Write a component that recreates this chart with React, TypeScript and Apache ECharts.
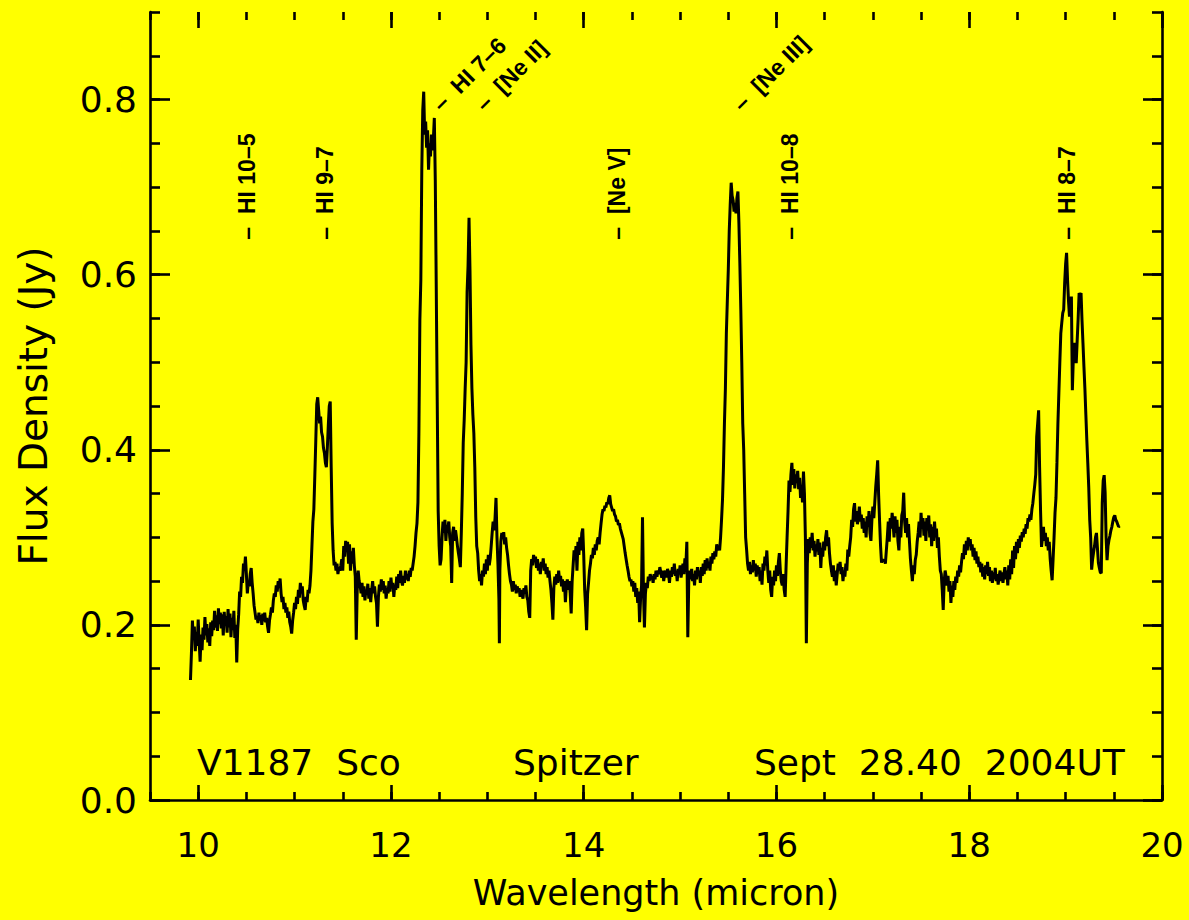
import React, { useEffect, useRef } from "react";
import * as echarts from "echarts";

// ---- axis ticks ----
const xMajorTicks = [10, 12, 14, 16, 18, 20];
const yMajorTicks = [0, 0.2, 0.4, 0.6, 0.8];

// ---- spectrum (wavelength in micron, flux density in Jy) ----
const specA: [number, number][] = [
  [9.92,0.137],[9.93,0.168],[9.94,0.205],[9.95,0.183],[9.96,0.198],[9.97,0.170],[9.98,0.192],[9.99,0.176],[10.00,0.206],[10.01,0.181],
  [10.02,0.158],[10.03,0.189],[10.04,0.171],[10.05,0.197],[10.06,0.183],[10.07,0.209],[10.08,0.188],[10.09,0.201],[10.10,0.180],[10.11,0.196],
  [10.12,0.176],[10.13,0.203],[10.14,0.187],[10.15,0.205],[10.16,0.194],[10.17,0.216],[10.18,0.197],[10.19,0.211],[10.20,0.193],[10.21,0.219],
  [10.22,0.201],[10.23,0.214],[10.24,0.196],[10.25,0.212],[10.26,0.188],[10.27,0.215],[10.28,0.199],[10.29,0.210],[10.30,0.191],[10.31,0.218],
  [10.32,0.197],[10.33,0.213],[10.34,0.186],[10.35,0.208],[10.36,0.194],[10.37,0.216],[10.38,0.185],[10.39,0.200],[10.40,0.157],[10.41,0.195],
  [10.42,0.212],[10.43,0.238],[10.44,0.232],[10.45,0.255],[10.46,0.248],[10.47,0.270],[10.48,0.262],[10.49,0.278],[10.50,0.258],[10.51,0.236],
  [10.52,0.250],[10.53,0.244],[10.54,0.258],[10.55,0.265],[10.56,0.248],[10.57,0.236],[10.58,0.222],[10.59,0.214],[10.60,0.206],[10.61,0.210],
  [10.62,0.202],[10.63,0.214],[10.64,0.205],[10.65,0.211],[10.66,0.200],[10.67,0.213],[10.68,0.204],[10.69,0.214],[10.70,0.203],[10.71,0.208],
  [10.72,0.198],[10.73,0.191],[10.74,0.205],[10.75,0.212],[10.76,0.220],[10.77,0.214],[10.78,0.228],[10.79,0.236],[10.80,0.232],[10.81,0.245],
  [10.82,0.238],[10.83,0.250],[10.84,0.242],[10.85,0.253],[10.86,0.236],[10.87,0.226],[10.88,0.232],[10.89,0.218],[10.90,0.225],[10.91,0.214],
  [10.92,0.220],[10.93,0.208],[10.94,0.215],[10.95,0.203],[10.96,0.198],[10.97,0.190],[10.98,0.205],[10.99,0.214],
];
const specB: [number, number][] = [
  [11.00,0.225],[11.01,0.218],[11.02,0.232],[11.03,0.224],[11.04,0.240],[11.05,0.231],[11.06,0.248],[11.07,0.236],[11.08,0.244],[11.09,0.228],
  [11.10,0.222],[11.11,0.217],[11.12,0.232],[11.13,0.226],[11.14,0.240],[11.15,0.236],[11.16,0.245],[11.17,0.262],[11.18,0.290],[11.19,0.318],
  [11.20,0.332],[11.21,0.370],[11.22,0.410],[11.23,0.452],[11.24,0.460],[11.25,0.445],[11.26,0.430],[11.27,0.438],[11.28,0.420],[11.29,0.415],
  [11.30,0.402],[11.31,0.396],[11.32,0.385],[11.33,0.380],[11.34,0.402],[11.35,0.428],[11.36,0.450],[11.37,0.455],[11.38,0.380],[11.39,0.316],
  [11.40,0.285],[11.41,0.268],[11.42,0.272],[11.43,0.262],[11.44,0.270],[11.45,0.258],[11.46,0.266],[11.47,0.262],[11.48,0.268],[11.49,0.275],
  [11.50,0.262],[11.51,0.290],[11.52,0.278],[11.53,0.296],[11.54,0.284],[11.55,0.295],[11.56,0.270],[11.57,0.292],[11.58,0.262],[11.59,0.284],
  [11.60,0.270],[11.61,0.288],[11.62,0.268],[11.63,0.255],[11.64,0.183],[11.65,0.240],[11.66,0.262],[11.67,0.250],[11.68,0.245],[11.69,0.236],
  [11.70,0.248],[11.71,0.232],[11.72,0.244],[11.73,0.228],[11.74,0.240],[11.75,0.235],[11.76,0.247],[11.77,0.230],[11.78,0.242],[11.79,0.226],
  [11.80,0.240],[11.81,0.250],[11.82,0.236],[11.83,0.244],[11.84,0.232],[11.85,0.225],[11.86,0.198],[11.87,0.232],[11.88,0.246],[11.89,0.238],
  [11.90,0.252],[11.91,0.240],[11.92,0.250],[11.93,0.236],[11.94,0.245],[11.95,0.230],[11.96,0.242],[11.97,0.236],[11.98,0.250],[11.99,0.238],
  [12.00,0.254],[12.01,0.242],[12.02,0.248],[12.03,0.232],[12.04,0.246],[12.05,0.240],[12.06,0.255],[12.07,0.242],[12.08,0.258],[12.09,0.248],
  [12.10,0.262],[12.11,0.250],[12.12,0.245],[12.13,0.256],[12.14,0.248],[12.15,0.262],[12.16,0.252],[12.17,0.258],[12.18,0.250],[12.19,0.262],
  [12.20,0.255],[12.21,0.265],[12.22,0.262],
];
const specC: [number, number][] = [
  [12.23,0.270],[12.24,0.278],[12.25,0.290],[12.26,0.305],[12.27,0.316],[12.28,0.340],[12.29,0.420],[12.30,0.548],[12.31,0.594],[12.32,0.720],
  [12.33,0.788],[12.34,0.809],[12.35,0.760],[12.36,0.775],[12.37,0.745],[12.38,0.765],[12.39,0.720],[12.40,0.750],[12.41,0.735],[12.42,0.760],
  [12.43,0.742],[12.44,0.755],[12.45,0.779],[12.46,0.708],[12.47,0.586],[12.48,0.457],[12.49,0.330],[12.50,0.290],[12.51,0.268],[12.52,0.275],
  [12.53,0.300],[12.54,0.318],[12.55,0.305],[12.56,0.320],[12.57,0.296],[12.58,0.314],[12.59,0.310],[12.60,0.318],[12.61,0.300],[12.62,0.290],
  [12.63,0.248],[12.64,0.305],[12.65,0.312],[12.66,0.296],[12.67,0.308],[12.68,0.300],[12.69,0.290],[12.70,0.282],[12.71,0.275],[12.72,0.266],
  [12.73,0.305],[12.74,0.350],[12.75,0.408],[12.76,0.434],[12.77,0.470],[12.78,0.500],[12.79,0.580],[12.80,0.610],[12.81,0.665],[12.82,0.605],
  [12.83,0.520],[12.84,0.470],[12.85,0.440],[12.86,0.419],[12.87,0.380],[12.88,0.323],[12.89,0.290],[12.90,0.282],[12.91,0.262],[12.92,0.250],
  [12.93,0.258],[12.94,0.245],[12.95,0.262],[12.96,0.255],[12.97,0.270],[12.98,0.258],[12.99,0.275],[13.00,0.262],[13.01,0.280],[13.02,0.268],
  [13.03,0.276],[13.04,0.290],[13.05,0.305],[13.06,0.318],[13.07,0.308],[13.08,0.322],[13.09,0.345],[13.10,0.300],[13.11,0.270],[13.12,0.230],
  [13.125,0.179],[13.13,0.262],[13.14,0.295],[13.15,0.305],[13.16,0.298],[13.17,0.306],[13.18,0.292],[13.19,0.300],[13.20,0.288],[13.21,0.280],
  [13.22,0.268],[13.23,0.258],[13.24,0.250],[13.25,0.246],[13.26,0.238],[13.27,0.250],[13.28,0.240],[13.29,0.246],[13.30,0.236],[13.31,0.244],
  [13.32,0.238],[13.33,0.242],[13.34,0.232],[13.35,0.240],[13.36,0.235],[13.37,0.230],[13.38,0.242],[13.39,0.236],[13.40,0.245],[13.41,0.232],
  [13.42,0.228],[13.43,0.215],[13.44,0.208],
];
const specD: [number, number][] = [
  [13.45,0.262],[13.46,0.275],[13.47,0.268],[13.48,0.280],[13.49,0.272],[13.50,0.278],[13.51,0.265],[13.52,0.275],[13.53,0.262],[13.54,0.270],
  [13.55,0.258],[13.56,0.272],[13.57,0.266],[13.58,0.276],[13.59,0.262],[13.60,0.270],[13.61,0.258],[13.62,0.266],[13.63,0.254],[13.64,0.262],
  [13.65,0.250],[13.66,0.240],[13.67,0.225],[13.68,0.206],[13.69,0.242],[13.70,0.255],[13.71,0.246],[13.72,0.258],[13.73,0.248],[13.74,0.262],
  [13.75,0.250],[13.76,0.256],[13.77,0.244],[13.78,0.252],[13.79,0.238],[13.80,0.250],[13.81,0.226],[13.82,0.245],[13.83,0.252],[13.84,0.240],
  [13.85,0.250],[13.86,0.236],[13.87,0.213],[13.88,0.250],[13.89,0.268],[13.90,0.285],[13.91,0.275],[13.92,0.290],[13.93,0.262],[13.94,0.295],
  [13.95,0.280],[13.96,0.300],[13.97,0.285],[13.98,0.305],[13.99,0.310],[14.00,0.280],[14.01,0.240],[14.02,0.220],[14.03,0.194],[14.04,0.235],
  [14.05,0.248],[14.06,0.262],[14.07,0.270],[14.08,0.280],[14.09,0.276],[14.10,0.288],[14.11,0.280],[14.12,0.292],[14.13,0.285],[14.14,0.296],
  [14.15,0.300],[14.16,0.292],[14.17,0.305],[14.18,0.316],[14.19,0.326],[14.20,0.332],[14.21,0.330],[14.22,0.336],[14.23,0.334],[14.24,0.340],
  [14.25,0.338],[14.26,0.345],[14.27,0.348],[14.28,0.338],[14.29,0.334],[14.30,0.330],[14.31,0.332],[14.32,0.326],[14.33,0.324],[14.34,0.318],
  [14.35,0.320],[14.36,0.314],[14.37,0.316],[14.38,0.310],[14.39,0.306],[14.40,0.302],[14.41,0.298],[14.42,0.290],[14.43,0.282],[14.44,0.275],
  [14.45,0.268],[14.46,0.262],[14.47,0.255],[14.48,0.250],[14.49,0.252],[14.50,0.244],[14.51,0.250],[14.52,0.238],[14.53,0.248],[14.54,0.232],
  [14.55,0.242],[14.56,0.225],[14.57,0.238],[14.58,0.203],[14.59,0.230],[14.60,0.245],[14.61,0.323],[14.62,0.238],[14.63,0.197],[14.64,0.235],
  [14.65,0.248],[14.66,0.242],[14.67,0.255],[14.68,0.250],[14.69,0.258],[14.70,0.252],[14.71,0.256],[14.72,0.248],[14.73,0.258],[14.74,0.252],
  [14.75,0.262],[14.76,0.255],[14.77,0.262],[14.78,0.258],[14.79,0.266],[14.80,0.260],[14.81,0.254],[14.82,0.262],[14.83,0.250],[14.84,0.258],
  [14.85,0.262],[14.86,0.254],[14.87,0.264],[14.88,0.258],[14.89,0.248],[14.90,0.262],[14.91,0.255],[14.92,0.266],[14.93,0.258],[14.94,0.270],
  [14.95,0.256],[14.96,0.262],[14.97,0.250],[14.98,0.264],[14.99,0.258],[15.00,0.268],[15.01,0.254],[15.02,0.262],[15.03,0.270],[15.04,0.258],
  [15.05,0.276],[15.06,0.268],[15.07,0.295],[15.08,0.186],[15.09,0.250],[15.10,0.262],[15.11,0.252],[15.12,0.264],[15.13,0.250],[15.14,0.258],
  [15.15,0.245],[15.16,0.262],[15.17,0.252],[15.18,0.266],[15.19,0.256],[15.20,0.262],[15.21,0.248],[15.22,0.266],[15.23,0.256],[15.24,0.270],
  [15.25,0.258],[15.26,0.274],[15.27,0.262],[15.28,0.276],[15.29,0.265],[15.30,0.272],[15.31,0.262],[15.32,0.278],[15.33,0.270],[15.34,0.282],
  [15.35,0.275],[15.36,0.284],[15.37,0.278],[15.38,0.292],[15.39,0.285],[15.40,0.290],
];
const specE: [number, number][] = [
  [15.41,0.285],[15.42,0.300],[15.43,0.320],[15.44,0.343],[15.45,0.380],[15.46,0.430],[15.47,0.470],[15.48,0.533],[15.49,0.570],[15.50,0.605],
  [15.51,0.650],[15.52,0.680],[15.53,0.705],[15.54,0.690],[15.55,0.685],[15.56,0.672],[15.57,0.682],[15.58,0.670],[15.59,0.688],[15.60,0.695],
  [15.61,0.660],[15.62,0.613],[15.63,0.560],[15.64,0.500],[15.65,0.430],[15.66,0.400],[15.67,0.350],[15.68,0.300],[15.69,0.286],[15.70,0.270],
  [15.71,0.262],[15.72,0.272],[15.73,0.258],[15.74,0.268],[15.75,0.260],[15.76,0.274],[15.77,0.262],[15.78,0.270],[15.79,0.255],[15.80,0.268],
  [15.81,0.258],[15.82,0.266],[15.83,0.250],[15.84,0.262],[15.85,0.246],[15.86,0.270],[15.87,0.262],[15.88,0.278],[15.89,0.268],[15.90,0.285],
  [15.91,0.262],[15.92,0.248],[15.93,0.262],[15.94,0.240],[15.95,0.232],[15.96,0.255],[15.97,0.245],[15.98,0.262],[15.99,0.250],[16.00,0.268],
  [16.01,0.256],[16.02,0.272],[16.03,0.282],[16.04,0.262],[16.05,0.250],[16.06,0.245],[16.07,0.258],[16.08,0.240],[16.09,0.232],[16.10,0.268],
  [16.11,0.300],[16.12,0.330],[16.13,0.365],[16.14,0.352],[16.15,0.372],[16.16,0.385],[16.17,0.360],[16.18,0.378],[16.19,0.356],[16.20,0.372],
  [16.21,0.362],[16.22,0.376],[16.23,0.355],[16.24,0.368],[16.25,0.345],[16.26,0.360],[16.27,0.340],[16.28,0.375],[16.29,0.350],[16.30,0.300],
  [16.31,0.179],[16.32,0.270],
];
const specF: [number, number][] = [
  [16.33,0.298],[16.34,0.282],[16.35,0.300],[16.36,0.288],[16.37,0.305],[16.38,0.285],[16.39,0.296],[16.40,0.278],[16.41,0.292],[16.42,0.284],
  [16.43,0.298],[16.44,0.280],[16.45,0.294],[16.46,0.265],[16.47,0.288],[16.48,0.278],[16.49,0.295],[16.50,0.285],[16.51,0.300],[16.52,0.308],
  [16.53,0.290],[16.54,0.300],[16.55,0.282],[16.56,0.270],[16.57,0.262],[16.58,0.255],[16.59,0.268],[16.60,0.250],[16.61,0.262],[16.62,0.245],
  [16.63,0.258],[16.64,0.270],[16.65,0.262],[16.66,0.272],[16.67,0.258],[16.68,0.266],[16.69,0.250],[16.70,0.262],[16.71,0.255],[16.72,0.270],
  [16.73,0.262],[16.74,0.286],[16.75,0.278],[16.76,0.290],[16.77,0.300],[16.78,0.320],[16.79,0.312],[16.80,0.332],[16.81,0.339],[16.82,0.318],
  [16.83,0.330],[16.84,0.315],[16.85,0.322],[16.86,0.335],[16.87,0.318],[16.88,0.326],[16.89,0.310],[16.90,0.322],[16.91,0.305],[16.92,0.318],
  [16.93,0.300],[16.94,0.324],[16.95,0.312],[16.96,0.330],[16.97,0.305],[16.98,0.296],[16.99,0.320],[17.00,0.335],[17.01,0.322],[17.02,0.340],
  [17.03,0.358],[17.04,0.372],[17.05,0.388],[17.06,0.348],[17.07,0.318],[17.08,0.290],[17.09,0.271],[17.10,0.275],[17.11,0.272],[17.12,0.275],
  [17.13,0.270],[17.14,0.285],[17.15,0.300],[17.16,0.318],[17.17,0.295],[17.18,0.322],[17.19,0.310],[17.20,0.328],[17.21,0.315],[17.22,0.300],
  [17.23,0.324],[17.24,0.305],[17.25,0.320],[17.26,0.296],[17.27,0.285],[17.28,0.312],[17.29,0.300],[17.30,0.325],[17.31,0.330],[17.32,0.351],
  [17.33,0.318],[17.34,0.305],[17.35,0.322],[17.36,0.300],[17.37,0.315],[17.38,0.295],[17.39,0.275],[17.40,0.262],[17.41,0.250],[17.42,0.268],
  [17.43,0.258],[17.44,0.274],[17.45,0.280],[17.46,0.295],[17.47,0.305],[17.48,0.318],[17.49,0.300],[17.50,0.328],[17.51,0.310],[17.52,0.322],
  [17.53,0.302],[17.54,0.318],[17.55,0.296],[17.56,0.322],[17.57,0.308],[17.58,0.325],[17.59,0.300],[17.60,0.315],[17.61,0.290],[17.62,0.312],
  [17.63,0.296],[17.64,0.318],[17.65,0.300],[17.66,0.310],[17.67,0.288],[17.68,0.300],[17.69,0.278],[17.70,0.262],[17.71,0.258],[17.72,0.240],
  [17.73,0.217],[17.74,0.250],[17.75,0.262],[17.76,0.255],[17.77,0.245],[17.78,0.256],[17.79,0.238],[17.80,0.250],[17.81,0.225],[17.82,0.245],
  [17.83,0.232],[17.84,0.250],[17.85,0.240],[17.86,0.255],[17.87,0.248],[17.88,0.262],[17.89,0.255],[17.90,0.268],[17.91,0.260],[17.92,0.272],
  [17.93,0.282],[17.94,0.275],[17.95,0.292],[17.96,0.280],[17.97,0.296],[17.98,0.285],[17.99,0.300],[18.00,0.290],[18.01,0.298],[18.02,0.285],
  [18.03,0.292],[18.04,0.278],[18.05,0.288],[18.06,0.274],[18.07,0.284],[18.08,0.270],[18.09,0.278],[18.10,0.266],[18.11,0.272],[18.12,0.260],
  [18.13,0.270],[18.14,0.255],[18.15,0.266],[18.16,0.252],[18.17,0.268],[18.18,0.258],[18.19,0.272],[18.20,0.256],[18.21,0.266],[18.22,0.250],
  [18.23,0.262],[18.24,0.248],[18.25,0.260],[18.26,0.252],[18.27,0.265],[18.28,0.250],[18.29,0.258],[18.30,0.246],[18.31,0.255],[18.32,0.262],
  [18.33,0.250],[18.34,0.260],[18.35,0.248],[18.36,0.258],[18.37,0.266],[18.38,0.252],[18.39,0.262],[18.40,0.245],[18.41,0.268],[18.42,0.252],
  [18.43,0.275],[18.44,0.258],[18.45,0.285],[18.46,0.265],[18.47,0.290],[18.48,0.275],[18.49,0.295],[18.50,0.282],[18.51,0.298],[18.52,0.288],
  [18.53,0.302],[18.54,0.295],[18.55,0.306],[18.56,0.300],[18.57,0.310],[18.58,0.304],[18.59,0.315],[18.60,0.310],[18.61,0.322],[18.62,0.318],
  [18.63,0.326],[18.64,0.320],[18.65,0.332],[18.66,0.339],[18.67,0.350],[18.68,0.360],[18.69,0.372],[18.70,0.415],
];
const specG: [number, number][] = [
  [18.71,0.430],[18.72,0.445],[18.73,0.380],[18.74,0.330],[18.75,0.289],[18.76,0.300],[18.77,0.312],[18.78,0.296],[18.79,0.305],[18.80,0.290],
  [18.81,0.300],[18.82,0.285],[18.83,0.295],[18.84,0.275],[18.85,0.262],[18.86,0.251],[18.87,0.275],[18.88,0.300],[18.89,0.328],[18.90,0.345],
  [18.91,0.385],[18.92,0.430],[18.93,0.465],[18.94,0.500],[18.95,0.533],[18.96,0.545],[18.97,0.556],[18.98,0.560],[18.99,0.590],[19.00,0.612],
  [19.01,0.625],[19.02,0.594],[19.03,0.570],[19.04,0.552],[19.05,0.565],[19.06,0.575],[19.07,0.468],[19.08,0.505],[19.09,0.522],[19.10,0.505],
  [19.11,0.499],[19.12,0.525],[19.13,0.550],[19.14,0.579],[19.15,0.576],[19.16,0.579],[19.17,0.548],[19.18,0.522],[19.19,0.495],[19.20,0.470],
  [19.21,0.440],[19.22,0.411],[19.23,0.385],[19.24,0.357],[19.25,0.320],[19.26,0.300],[19.27,0.263],[19.28,0.275],[19.29,0.283],[19.30,0.290],
  [19.31,0.300],[19.32,0.305],[19.33,0.288],[19.34,0.271],[19.35,0.265],[19.36,0.260],[19.37,0.259],[19.38,0.339],[19.39,0.365],[19.40,0.371],
  [19.41,0.351],[19.42,0.300],[19.43,0.274],[19.44,0.290],[19.45,0.297],[19.46,0.302],[19.47,0.308],[19.48,0.312],[19.49,0.318],[19.50,0.323],
  [19.51,0.325],[19.52,0.320],[19.53,0.318],[19.54,0.315],[19.55,0.312],[19.56,0.313],
];

// ---- line identifications ----
const verticalLineNames = ["HI 10–5", "HI 9–7", "[Ne V]", "HI 10–8", "HI 8–7"];
const verticalLineWavelengths = [10.51, 11.32, 14.35, 16.145, 19.01];
const verticalLabelFlux = 0.64;
const slantedLineNames = ["HI 7–6", "[Ne II]", "[Ne III]"];
const slantedLineWavelengths = [12.47, 12.92, 15.59];
const slantedLabelFlux = 0.791;

// ---- annotations ----
const footerTexts = ["V1187  Sco", "Spitzer", "Sept  28.40  2004UT"];
const xTitle = "Wavelength (micron)";
const yTitle = "Flux Density (Jy)";

export default function App() {
  const ref = useRef<HTMLDivElement>(null);

  useEffect(() => {
    if (!ref.current) return;
    document.body.style.margin = "0";
    document.body.style.background = "#ffff00";
    const chart = echarts.init(ref.current, null, { renderer: "svg" });

    const spectrum = [...specA, ...specB, ...specC, ...specD, ...specE, ...specF, ...specG];
    const black = "#000000";
    const tickLine = { color: black, width: 2.6 };
    const font = "DejaVu Sans";
    const noSplit = { show: false };

    const xBase = { type: "value", min: 9.5, max: 20, splitLine: noSplit };
    const yBase = { type: "value", min: 0, max: 0.9, splitLine: noSplit };

    const idLabel = {
      show: true, position: "inside", align: "left", verticalAlign: "middle",
      formatter: (p: any) => "–  " + p.name,
      color: black, opacity: 1, fontFamily: "Liberation Sans", fontWeight: "bold", fontSize: 23,
      textBorderWidth: 0, textBorderColor: "transparent", textShadowBlur: 0,
    };

    const option: any = {
      animation: false,
      backgroundColor: "#ffff00",
      grid: { left: 150, right: 27, top: 12, bottom: 120, containLabel: false },
      xAxis: [
        {
          ...xBase, position: "bottom", interval: 0.5,
          axisLine: { show: true, onZero: false, lineStyle: tickLine },
          axisTick: { show: true, inside: true, length: 8, lineStyle: tickLine },
          axisLabel: { show: false },
        },
        {
          ...xBase, position: "bottom",
          axisLine: { show: false, onZero: false },
          axisTick: { show: true, inside: true, length: 15, customValues: xMajorTicks, lineStyle: tickLine },
          axisLabel: {
            show: true, customValues: xMajorTicks, margin: 28, color: black,
            fontSize: 34, fontFamily: font, formatter: (v: number) => String(v),
          },
          name: xTitle, nameLocation: "middle", nameGap: 75,
          nameTextStyle: { color: black, fontSize: 35, fontFamily: font },
        },
        {
          ...xBase, position: "top", interval: 0.5,
          axisLine: { show: false, onZero: false },
          axisTick: { show: true, inside: true, length: 8, lineStyle: tickLine },
          axisLabel: { show: false },
        },
        {
          ...xBase, position: "top",
          axisLine: { show: false, onZero: false },
          axisTick: { show: true, inside: true, length: 16, customValues: xMajorTicks, lineStyle: tickLine },
          axisLabel: { show: false },
        },
      ],
      yAxis: [
        {
          ...yBase, position: "left", interval: 0.05,
          axisLine: { show: true, onZero: false, lineStyle: tickLine },
          axisTick: { show: true, inside: true, length: 10, lineStyle: tickLine },
          axisLabel: { show: false },
        },
        {
          ...yBase, position: "left",
          axisLine: { show: false, onZero: false },
          axisTick: { show: true, inside: true, length: 20, customValues: yMajorTicks, lineStyle: tickLine },
          axisLabel: {
            show: true, customValues: yMajorTicks, margin: 13, color: black,
            fontSize: 36, fontFamily: font, formatter: (v: number) => v.toFixed(1),
          },
          name: yTitle, nameLocation: "middle", nameGap: 97,
          nameTextStyle: { color: black, fontSize: 39, fontFamily: font },
        },
        {
          ...yBase, position: "right", interval: 0.05,
          axisLine: { show: true, onZero: false, lineStyle: tickLine },
          axisTick: { show: true, inside: true, length: 10, lineStyle: tickLine },
          axisLabel: { show: false },
        },
        {
          ...yBase, position: "right",
          axisLine: { show: false, onZero: false },
          axisTick: { show: true, inside: true, length: 19, customValues: yMajorTicks, lineStyle: tickLine },
          axisLabel: { show: false },
        },
      ],
      series: [
        {
          type: "line",
          data: spectrum,
          xAxisIndex: 0,
          yAxisIndex: 0,
          showSymbol: false,
          symbol: "none",
          silent: true,
          lineStyle: { color: black, width: 3 },
          z: 3,
        },
        {
          type: "scatter",
          xAxisIndex: 0,
          yAxisIndex: 0,
          symbolSize: 0,
          silent: true,
          itemStyle: { color: black, opacity: 1 },
          data: verticalLineNames.map((n, i) => ({ name: n, value: [verticalLineWavelengths[i], verticalLabelFlux] })),
          label: { ...idLabel, rotate: 90 },
        },
        {
          type: "scatter",
          xAxisIndex: 0,
          yAxisIndex: 0,
          symbolSize: 0,
          silent: true,
          itemStyle: { color: black, opacity: 1 },
          data: slantedLineNames.map((n, i) => ({ name: n, value: [slantedLineWavelengths[i], slantedLabelFlux] })),
          label: { ...idLabel, rotate: 45 },
        },
      ],
      graphic: [
        { type: "text", x: 197, y: 762, style: { text: footerTexts[0], fill: black, font: `36px "${font}"`, textAlign: "left", textVerticalAlign: "middle", align: "left", verticalAlign: "middle" } },
        { type: "text", x: 513, y: 762, style: { text: footerTexts[1], fill: black, font: `36px "${font}"`, textAlign: "left", textVerticalAlign: "middle", align: "left", verticalAlign: "middle" } },
        { type: "text", x: 754, y: 762, style: { text: footerTexts[2], fill: black, font: `36px "${font}"`, textAlign: "left", textVerticalAlign: "middle", align: "left", verticalAlign: "middle" } },
      ],
    };

    chart.setOption(option);
    return () => chart.dispose();
  }, []);

  return (
    <div
      ref={ref}
      style={{ position: "absolute", left: 0, top: 0, width: 1189, height: 920, background: "#ffff00" }}
    />
  );
}
